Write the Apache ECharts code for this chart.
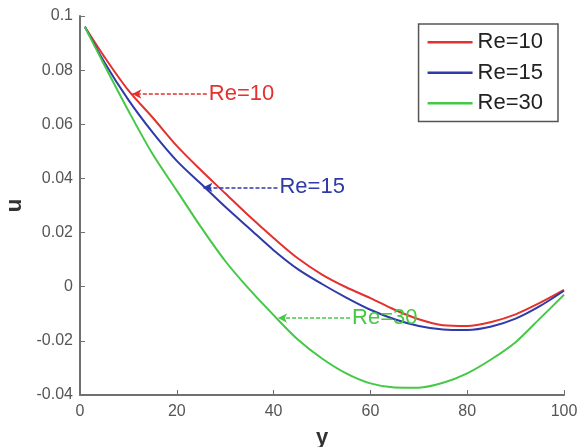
<!DOCTYPE html>
<html>
<head>
<meta charset="utf-8">
<script src="https://cdn.jsdelivr.net/npm/echarts@6/dist/echarts.min.js"></script>
<style>
  html, body { margin: 0; padding: 0; background: #fff; }
  #chart { width: 585px; height: 447px; }
</style>
</head>
<body>
<div id="chart"></div>
<script>
// positions along y (x axis)
const yPos = [1, 5, 10, 15, 20, 25, 30, 35, 40, 45, 50, 55, 60, 65, 70, 75, 80, 85, 90, 95, 100];

// velocity u for each Re
const uRe10 = [0.096, 0.085, 0.0725, 0.0625, 0.052, 0.043, 0.0345, 0.026, 0.018, 0.0105, 0.0045, -0.0002,
  -0.0042, -0.0085, -0.012, -0.0142, -0.0145, -0.013, -0.0102, -0.006, -0.0012];
const uRe15 = [0.096, 0.083, 0.069, 0.057, 0.0465, 0.038, 0.0295, 0.0215, 0.0135, 0.0065, 0.001, -0.004,
  -0.0085, -0.012, -0.0145, -0.0158, -0.016, -0.0147, -0.0118, -0.0072, -0.0015];
const uRe30 = [0.096, 0.082, 0.065, 0.049, 0.0355, 0.022, 0.0095, -0.001, -0.0105, -0.0195, -0.0265, -0.032,
  -0.0357, -0.0372, -0.0373, -0.0355, -0.032, -0.0268, -0.0205, -0.0118, -0.003];

const seriesNames = ["Re=10", "Re=15", "Re=30"];
const seriesColors = ["#e3312e", "#2f3aa8", "#45c845"];

// annotation arrows: [tip y, tip u, text start y]
const notes = [
  [10.8, 0.0712, 26.2],
  [25.5, 0.0367, 40.8],
  [40.9, -0.0116, 55.8],
];

const fontFamily = "'Liberation Sans', Arial, sans-serif";

const toPairs = (vals) => yPos.map((y, i) => [y, vals[i]]);

const allValues = [uRe10, uRe15, uRe30];

const series = allValues.map((vals, i) => ({
  name: seriesNames[i],
  type: "line",
  data: toPairs(vals),
  smooth: 0.3,
  symbol: "none",
  lineStyle: { color: seriesColors[i], width: 2 },
  itemStyle: { color: seriesColors[i] },
  markLine: {
    silent: true,
    animation: false,
    symbol: ["none", "arrow"],
    symbolSize: [7, 9],
    lineStyle: { color: seriesColors[i], type: [4, 2], width: 1.5 },
    label: {
      show: true,
      position: "start",
      distance: 2,
      formatter: seriesNames[i],
      color: seriesColors[i],
      fontSize: 22,
      fontFamily: fontFamily,
    },
    data: [[
      { coord: [notes[i][2], notes[i][1]] },
      { coord: [notes[i][0], notes[i][1]] },
    ]],
  },
}));

const chart = echarts.init(document.getElementById("chart"));

chart.setOption({
  animation: false,
  grid: { left: 80, right: 21, top: 16, bottom: 52, outerBoundsMode: "none", containLabel: false },
  legend: {
    orient: "vertical",
    right: 27,
    top: 24,
    padding: [6, 15, 6, 9],
    itemGap: 6,
    itemWidth: 45,
    itemHeight: 2.5,
    icon: "rect",
    borderColor: "#555",
    borderWidth: 1.5,
    data: seriesNames,
    textStyle: { fontSize: 22, lineHeight: 24.5, color: "#222", fontFamily: fontFamily },
  },
  xAxis: {
    type: "value",
    min: 0,
    max: 100,
    interval: 20,
    name: "y",
    nameLocation: "middle",
    nameGap: 32,
    nameTextStyle: { fontSize: 22, fontWeight: "bold", color: "#333", fontFamily: fontFamily },
    axisLine: { onZero: false, lineStyle: { color: "#707070", width: 2 } },
    axisTick: { inside: true, length: 5, lineStyle: { color: "#707070" } },
    axisLabel: { fontSize: 16, color: "#555", margin: 9, fontFamily: fontFamily },
    splitLine: { show: false },
  },
  yAxis: {
    type: "value",
    min: -0.04,
    max: 0.1,
    interval: 0.02,
    name: "u",
    nameLocation: "middle",
    nameRotate: 90,
    nameGap: 51,
    nameTextStyle: { fontSize: 22, fontWeight: "bold", color: "#333", fontFamily: fontFamily },
    axisLine: { show: true, onZero: false, lineStyle: { color: "#707070", width: 2 } },
    axisTick: { show: true, inside: true, length: 5, lineStyle: { color: "#707070" } },
    axisLabel: {
      fontSize: 16,
      color: "#555",
      margin: 7,
      fontFamily: fontFamily,
      formatter: (v) => String(+v.toFixed(2)),
    },
    splitLine: { show: false },
  },
  series: series,
});
</script>
</body>
</html>
